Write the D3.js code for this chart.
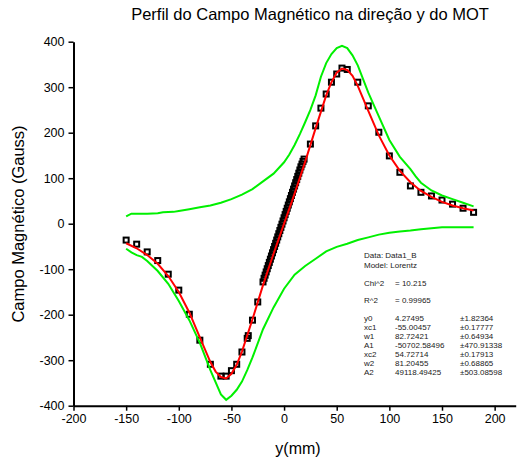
<!DOCTYPE html>
<html>
<head>
<meta charset="utf-8">
<script src="https://cdn.jsdelivr.net/npm/d3@7"></script>
<style>
  body { margin: 0; background: #fff; }
  svg { font-family: Arial, "Liberation Sans", sans-serif; }
  .axis path, .axis line { stroke: #000; }
  .axis text { font-size: 12.5px; fill: #000; }
  .stats text { font-size: 8px; fill: #222; }
</style>
</head>
<body>
<div id="container"></div>
<script>
/* CONSTANTS AND GLOBALS */
const width = 518,
  height = 460

// measured data (y in mm, B in Gauss)
const dataX = [-150, -140, -130, -120, -110, -100, -90, -80, -70, -60, -55, -50, -45, -40, -35, -34, -30, -25,
  -20, -19, -18, -17, -16, -15, -14, -13, -12, -11, -10, -9, -8, -7, -6, -5, -4, -3, -2, -1,
  0, 1, 2, 3, 4, 5, 6, 7, 8, 9, 10, 11, 12, 13, 14, 15, 16, 17, 18, 19,
  25, 30, 35, 40, 45, 50, 55, 60, 70, 80, 90, 100, 110, 120, 130, 140, 150, 160, 170, 180]
const dataB = [-36, -45, -62, -81, -111, -146, -199, -256, -309, -335, -335, -323, -309, -282, -252, -246, -212, -172,
  -128, -120, -113, -106, -99, -92, -85, -78, -71, -64, -57, -50, -43, -36, -29, -22, -15, -8, -1, 6,
  13, 20, 27, 34, 41, 48, 55, 62, 69, 76, 83, 90, 97, 104, 111, 118, 125, 131, 137, 142,
  175, 215, 254, 285, 311, 329, 342, 339, 311, 259, 201, 149, 113, 83, 69, 61, 52, 43, 34, 25]

// Lorentz fit curve
const fitX = [-150, -140, -130, -120, -110, -100, -90, -80, -70, -65, -60, -55, -50, -45, -40, -30, -20, -10,
  0, 10, 20, 30, 40, 45, 50, 55, 60, 65, 70, 80, 90, 100, 110, 120, 130, 140, 150, 160, 170, 180]
const fitB = [-43, -54, -69, -88, -115, -150, -195, -250, -304, -325, -337, -340, -330, -310, -281, -210, -135, -66,
  0, 66, 136, 210, 282, 311, 332, 341, 338, 325, 303, 248, 194, 150, 116, 91, 72, 59, 48, 40, 34, 29]

// green bands
const upperX = [-150, -145, -140, -130, -120, -115, -105, -100, -90, -80, -70, -60, -50, -40, -30, -20, -10,
  0, 5, 10, 15, 20, 25, 30, 35, 40, 45, 50, 55, 60, 65, 70, 80, 90, 100, 110, 120, 125, 130, 140, 150, 160, 170, 180]
const upperB = [16, 22, 22, 22, 23, 25, 26, 28, 32, 36, 40, 46, 54, 64, 76, 93, 110,
  135, 152, 173, 197, 223, 250, 282, 323, 353, 373, 386, 391, 386, 370, 348, 288, 236, 184, 147, 120, 104, 90, 73, 62, 54, 46, 38]
const lowerX = [-150, -145, -140, -135, -130, -120, -110, -100, -90, -80, -70, -60, -55, -50, -45, -40, -35, -30, -20, -10,
  0, 10, 20, 30, 40, 50, 60, 70, 80, 90, 100, 110, 120, 130, 140, 150, 160, 170, 180]
const lowerB = [-55, -63, -69, -73, -82, -104, -132, -170, -212, -262, -322, -375, -387, -378, -365, -347, -322, -294, -232, -184,
  -143, -112, -93, -77, -61, -51, -44, -36, -30, -24, -20, -17, -15, -12, -10, -8, -8, -8, -8]

const xTicks = [-200, -150, -100, -50, 0, 50, 100, 150, 200]
const yTicks = [-400, -300, -200, -100, 0, 100, 200, 300, 400]

const statsTop = [["Data: Data1_B"], ["Model: Lorentz"]]
const statsFit = [["Chi^2", "= 10.215"], ["R^2", "= 0.99965"]]
const statsParams = [
  ["y0", "4.27495", "\u00b11.82364"],
  ["xc1", "-55.00457", "\u00b10.17777"],
  ["w1", "82.72421", "\u00b10.64934"],
  ["A1", "-50702.58496", "\u00b1470.91338"],
  ["xc2", "54.72714", "\u00b10.17913"],
  ["w2", "81.20455", "\u00b10.68865"],
  ["A2", "49118.49425", "\u00b1503.08598"]
]

// + SCALES
const xScale = d3.scaleLinear()
  .domain([-200, 220])
  .range([73.5, 515.7])

const yScale = d3.scaleLinear()
  .domain([-400, 400])
  .range([405.7, 41.7])

// CREATE SVG ELEMENT
const svg = d3.select("#container")
  .append("svg")
  .attr("width", width)
  .attr("height", height)

// title
svg.append("text")
  .attr("x", 310)
  .attr("y", 20)
  .attr("text-anchor", "middle")
  .attr("font-size", 16.5)
  .text("Perfil do Campo Magnético na direção y do MOT")

// BUILD AND CALL AXES
const plainFormat = d => String(d) // keep an ascii hyphen like the original

const xAxisGroup = svg.append("g")
  .attr("class", "axis")
  .attr("transform", `translate(0, ${yScale(-400)})`)

// minor ticks
xAxisGroup.call(d3.axisBottom(xScale).tickValues(d3.range(-175, 220, 50)).tickSize(3).tickFormat(""))
xAxisGroup.call(d3.axisBottom(xScale).tickValues(xTicks).tickSize(5).tickSizeOuter(0).tickPadding(3).tickFormat(plainFormat))
xAxisGroup.selectAll("path").attr("stroke-width", 2)
xAxisGroup.selectAll("line").attr("stroke-width", 1.5)

svg.append("text")
  .attr("x", 298)
  .attr("y", 454)
  .attr("text-anchor", "middle")
  .attr("font-size", 16)
  .text("y(mm)")

const yAxisGroup = svg.append("g")
  .attr("class", "axis")
  .attr("transform", `translate(${xScale(-200)}, 0)`)

yAxisGroup.call(d3.axisLeft(yScale).tickValues(d3.range(-350, 400, 100)).tickSize(3).tickFormat(""))
yAxisGroup.call(d3.axisLeft(yScale).tickValues(yTicks).tickSize(5).tickSizeOuter(0).tickPadding(4).tickFormat(plainFormat))
yAxisGroup.selectAll("path").attr("stroke-width", 2)
yAxisGroup.selectAll("line").attr("stroke-width", 1.5)

svg.append("text")
  .attr("transform", `translate(24, 224) rotate(-90)`)
  .attr("text-anchor", "middle")
  .attr("font-size", 16.5)
  .text("Campo Magnético (Gauss)")

// LINE GENERATOR
const lineGen = d3.line()
  .x(d => xScale(d[0]))
  .y(d => yScale(d[1]))

// DATA SQUARES
const points = dataX.map((x, i) => [x, dataB[i]])
svg.selectAll(".pt")
  .data(points)
  .join("rect")
  .attr("class", "pt")
  .attr("x", d => xScale(d[0]) - 2.5)
  .attr("y", d => yScale(d[1]) - 2.5)
  .attr("width", 5)
  .attr("height", 5)
  .attr("fill", "none")
  .attr("stroke", "#000")
  .attr("stroke-width", 2)

// DRAW LINES
const bands = [
  upperX.map((x, i) => [x, upperB[i]]),
  lowerX.map((x, i) => [x, lowerB[i]])
]
svg.selectAll(".band")
  .data(bands)
  .join("path")
  .attr("class", "band")
  .attr("d", d => lineGen(d))
  .attr("fill", "none")
  .attr("stroke", "#00f000")
  .attr("stroke-width", 2)

svg.append("path")
  .datum(fitX.map((x, i) => [x, fitB[i]]))
  .attr("d", d => lineGen(d))
  .attr("fill", "none")
  .attr("stroke", "#ff0000")
  .attr("stroke-width", 2)

// STATS BOX
const stats = svg.append("g").attr("class", "stats")
stats.selectAll(".top")
  .data(statsTop)
  .join("text")
  .attr("x", 364)
  .attr("y", (d, i) => 258 + i * 10)
  .text(d => d[0])

statsFit.forEach((row, i) => {
  stats.append("text").attr("x", 364).attr("y", 286 + i * 17).text(row[0])
  stats.append("text").attr("x", 395).attr("y", 286 + i * 17).text(row[1])
})

statsParams.forEach((row, i) => {
  const y = 321 + i * 9
  stats.append("text").attr("x", 364).attr("y", y).text(row[0])
  stats.append("text").attr("x", 395).attr("y", y).text(row[1])
  stats.append("text").attr("x", 460).attr("y", y).text(row[2])
})
</script>
</body>
</html>
